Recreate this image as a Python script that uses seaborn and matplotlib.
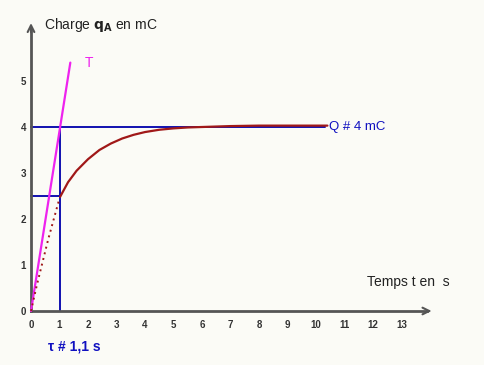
import numpy as np
import pandas as pd
import seaborn as sns
import matplotlib
matplotlib.use('Agg')
import matplotlib.pyplot as plt

# charge curve (t in s, q in mC)
t_curve = [1.02, 1.3, 1.6, 2.0, 2.4, 2.8, 3.2, 3.6, 4.0, 4.5, 5.0, 5.5, 6.0, 7.0, 8.0, 9.0, 10.0, 10.4]
q_curve = [2.48, 2.8, 3.05, 3.3, 3.5, 3.64, 3.75, 3.83, 3.89, 3.94, 3.97, 3.99, 4.0, 4.02, 4.03, 4.03, 4.03, 4.03]
# dotted start of the curve
t_dots = [0.0, 0.2, 0.4, 0.6, 0.8, 1.0]
q_dots = [0.0, 0.55, 1.05, 1.55, 2.0, 2.45]
# tangent at the origin
t_tan = [0.0, 1.38]
q_tan = [0.0, 5.4]
tau = 1.02
Q = 4.0
q_tau = 2.5
x_ticks = list(range(0, 14))
y_ticks = list(range(0, 6))

sns.set_theme(style="white")
plt.rcParams['font.family'] = ['Liberation Sans', 'DejaVu Sans']

fig = plt.figure(figsize=(4.84, 3.65), dpi=100)
fig.patch.set_facecolor('#fbfbf6')
ax = fig.add_axes([0, 0, 1, 1])
ax.set_facecolor('#fbfbf6')

px_x, px_y = 28.5, 46.0
ax.set_xlim(-31 / px_x, (484 - 31) / px_x)
ax.set_ylim(-(365 - 311) / px_y, 311 / px_y)

# axes through the origin
for s in ['top', 'right']:
    ax.spines[s].set_visible(False)
ax.spines['left'].set_position(('data', 0))
ax.spines['bottom'].set_position(('data', 0))
ax.spines['left'].set_bounds(0, 6.1)
ax.spines['bottom'].set_bounds(0, 13.9)
for s in ['left', 'bottom']:
    ax.spines[s].set_color('#555555')
    ax.spines[s].set_linewidth(2)
ax.annotate('', xy=(14.15, 0), xytext=(13.8, 0),
            arrowprops=dict(arrowstyle='->', color='#555555', lw=1.5))
ax.annotate('', xy=(0, 6.32), xytext=(0, 6.0),
            arrowprops=dict(arrowstyle='->', color='#555555', lw=1.5))

ax.set_xticks(x_ticks)
ax.set_yticks(y_ticks)
ax.tick_params(axis='both', direction='inout', length=5, width=1, color='#555555',
               labelsize=7, labelcolor='#333333')
ax.tick_params(axis='x', pad=4)
ax.tick_params(axis='y', pad=1)
for lab in ax.get_xticklabels() + ax.get_yticklabels():
    lab.set_fontweight('bold')

# blue construction lines
ax.plot([0, 10.3], [Q, Q], color='#1010b0', lw=1.4, zorder=2)
ax.plot([tau, tau], [0, Q], color='#1010b0', lw=1.4, zorder=2)
ax.plot([0, tau], [q_tau, q_tau], color='#1010b0', lw=1.4, zorder=2)

# tangent
sns.lineplot(x=t_tan, y=q_tan, color='#ee22ee', lw=1.6, ax=ax, zorder=3)

# charge curve
sns.lineplot(x=t_curve, y=q_curve, color='#a01818', lw=1.6, ax=ax, sort=False, zorder=4)
sns.lineplot(x=t_dots, y=q_dots, color='#a01818', lw=1.4, ls=(0, (1, 2)), ax=ax,
             sort=False, zorder=4)

ax.text(0.45, 6.22, 'Charge $\\mathbf{q}_{\\mathbf{A}}$ en mC', fontsize=10, color='#222222',
        va='center', ha='left')
ax.text(1.9, 5.4, 'T', fontsize=10, color='#ee22ee', va='center', ha='left')
ax.text(10.45, Q, 'Q # 4 mC', fontsize=9.5, color='#1010c0', va='center', ha='left')
ax.text(11.8, 0.62, 'Temps t en  s', fontsize=10, color='#222222', va='center', ha='left')
ax.text(0.6, -0.78, '\u03c4 # 1,1 s', fontsize=10, color='#1010c0', fontweight='bold',
        va='center', ha='left')

fig.savefig('out.png', dpi=100, facecolor=fig.get_facecolor())
